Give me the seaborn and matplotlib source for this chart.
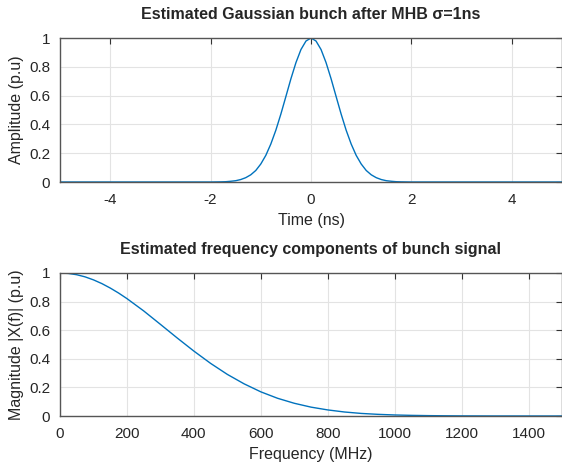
import numpy as np
import pandas as pd
import matplotlib
matplotlib.use("Agg")
import matplotlib.pyplot as plt
import seaborn as sns

# values
time_ns = [-5.0, -3.0, -2.0, -1.8, -1.7, -1.6, -1.5, -1.4, -1.3, -1.2, -1.1, -1.0,
           -0.9, -0.8, -0.7, -0.6, -0.5, -0.4, -0.3, -0.2, -0.1, 0.0,
           0.1, 0.2, 0.3, 0.4, 0.5, 0.6, 0.7, 0.8, 0.9, 1.0,
           1.1, 1.2, 1.3, 1.4, 1.5, 1.6, 1.7, 1.8, 2.0, 3.0, 5.0]
amplitude = [0.0, 0.0, 0.0, 0.001, 0.002, 0.005, 0.009, 0.017, 0.030, 0.050, 0.080, 0.125,
             0.185, 0.264, 0.360, 0.472, 0.594, 0.717, 0.829, 0.920, 0.979, 1.0,
             0.979, 0.920, 0.829, 0.717, 0.594, 0.472, 0.360, 0.264, 0.185, 0.125,
             0.080, 0.050, 0.030, 0.017, 0.009, 0.005, 0.002, 0.001, 0.0, 0.0, 0.0]

freq_mhz = [0, 25, 50, 75, 100, 125, 150, 175, 200, 250, 300, 350, 400, 450, 500, 550,
            600, 650, 700, 750, 800, 850, 900, 950, 1000, 1050, 1100, 1150, 1200, 1300, 1500]
magnitude = [1.0, 0.997, 0.988, 0.973, 0.952, 0.926, 0.895, 0.860, 0.821, 0.735, 0.641,
             0.546, 0.454, 0.368, 0.291, 0.225, 0.169, 0.124, 0.089, 0.062, 0.0425,
             0.028, 0.018, 0.0116, 0.0072, 0.0044, 0.0026, 0.0015, 0.0008, 0.0002, 0.0]

time_ticks = [-4, -2, 0, 2, 4]
freq_ticks = [0, 200, 400, 600, 800, 1000, 1200, 1400]
y_ticks = [0, 0.2, 0.4, 0.6, 0.8, 1]

####################################################################################

def octaveAxes(ax, xticks, xlim):
    # Octave-like look: inward ticks on every side, pale grid, grey box
    ax.set_xlim(*xlim)
    ax.set_ylim(0, 1)
    ax.set_xticks(xticks)
    ax.set_xticklabels([f"{v:g}" for v in xticks])
    ax.set_yticks(y_ticks)
    ax.set_yticklabels([f"{v:g}" for v in y_ticks])
    ax.grid(True, color="#e3e3e3", linewidth=0.8)
    ax.tick_params(direction="in", length=4, width=0.8, color="#333333",
                   top=True, right=True, labelsize=11, labelcolor="#262626")
    ax.tick_params(axis="x", pad=8)
    ax.tick_params(axis="y", pad=7)
    for side in ax.spines.values():
        side.set_visible(True)
        side.set_color("#555555")
        side.set_linewidth(1.0)

####################################################################################

sns.set_style("whitegrid")
plt.rcParams["font.family"] = ["Liberation Sans", "DejaVu Sans"]
plt.rcParams["axes.unicode_minus"] = False

fig = plt.figure(figsize=(5.62, 4.66), dpi=100)
ax1 = fig.add_axes([60 / 562, 1 - 182 / 466, 502 / 562, 144 / 466])
ax2 = fig.add_axes([60 / 562, 1 - 416 / 466, 502 / 562, 143 / 466])

time_df = pd.DataFrame({"t": time_ns, "a": amplitude})
freq_df = pd.DataFrame({"f": freq_mhz, "m": magnitude})

sns.lineplot(data=time_df, x="t", y="a", ax=ax1, color="#0072BD", linewidth=1.0)
sns.lineplot(data=freq_df, x="f", y="m", ax=ax2, color="#0072BD", linewidth=1.0)

octaveAxes(ax1, time_ticks, (-5, 5))
octaveAxes(ax2, freq_ticks, (0, 1500))

ax1.set_title("Estimated Gaussian bunch after MHB σ=1ns", fontsize=11.5,
              fontweight="bold", pad=14)
ax1.set_xlabel("Time (ns)", fontsize=11.5, color="#262626", labelpad=4)
ax1.set_ylabel("Amplitude (p.u)", fontsize=11.5, color="#262626", labelpad=4)

ax2.set_title("Estimated frequency components of bunch signal", fontsize=11.5,
              fontweight="bold", pad=14)
ax2.set_xlabel("Frequency (MHz)", fontsize=11.5, color="#262626", labelpad=4)
ax2.set_ylabel("Magnitude |X(f)| (p.u)", fontsize=11.5, color="#262626", labelpad=4)

fig.savefig("out.png", dpi=100)
